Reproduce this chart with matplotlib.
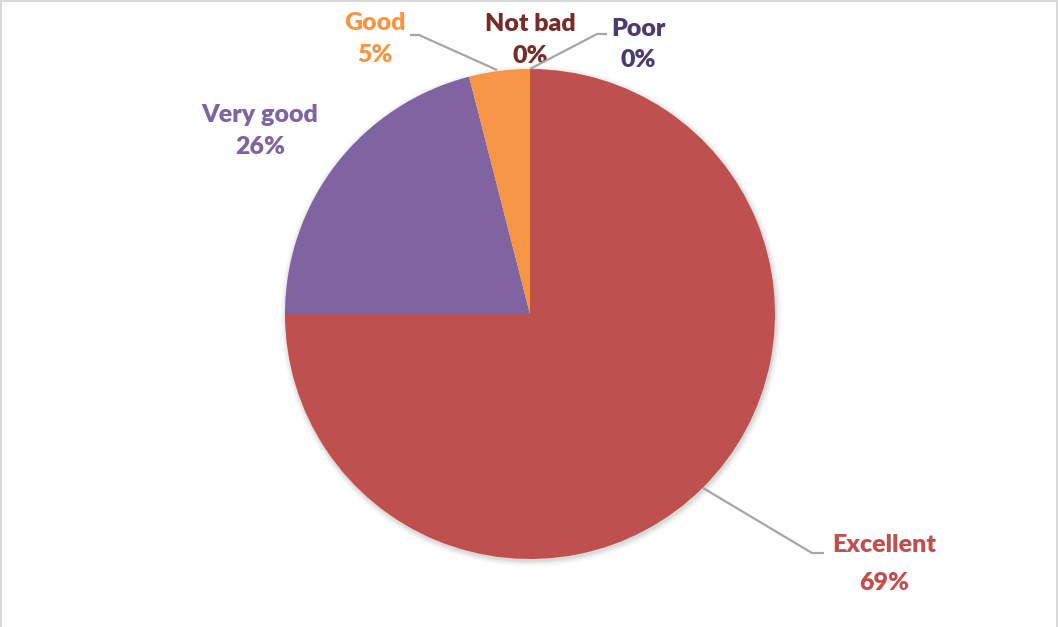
import matplotlib.pyplot as plt
from matplotlib.lines import Line2D
from matplotlib.patches import Circle

categories = ["Excellent", "Very good", "Good", "Not bad", "Poor"]
slice_values = [75, 21, 4, 0, 0]
label_percents = ["69%", "26%", "5%", "0%", "0%"]
slice_colors = ["#C0504D", "#8064A2", "#F79646", "#7F2F2C", "#4D3B6B"]
text_colors = ["#C0504D", "#8064A2", "#F79646", "#772C2A", "#4D3B6B"]

W, H = 1058, 627
fig = plt.figure(figsize=(W / 100, H / 100), dpi=100)
ax = fig.add_axes([0, 0, 1, 1])

def Y(y):
    return H - y

cx, cy, r = 530, 314, 245

# subtle shadow
for i, a in enumerate([0.05, 0.04, 0.03, 0.02]):
    ax.add_patch(Circle((cx + 1, Y(cy) - 2), r + 1 + i * 1.5, color="#000000", alpha=a, lw=0, zorder=0))

ax.pie(slice_values, colors=slice_colors, startangle=90, counterclock=False,
       radius=r, center=(cx, Y(cy)), wedgeprops=dict(linewidth=0), frame=True)

ax.set_xlim(0, W)
ax.set_ylim(0, H)
ax.set_aspect("auto")
ax.axis("off")

# label positions (x center, baseline of name, baseline of percent)
label_pos = {
    "Excellent": (884, 552, 590),
    "Very good": (260, 122, 154),
    "Good": (375, 30, 62),
    "Not bad": (530, 31, 63),
    "Poor": (638, 36, 67),
}
for name, pct, col in zip(categories, label_percents, text_colors):
    x, b1, b2 = label_pos[name]
    ax.text(x, Y(b1), name, ha="center", va="baseline", fontsize=18,
            fontweight="heavy", color=col, family="Lato")
    ax.text(x, Y(b2), pct, ha="center", va="baseline", fontsize=18,
            fontweight="heavy", color=col, family="Lato")

# leader lines
leader_color = "#A6A6A6"
leaders = [
    [(703, 488), (812, 553), (824, 553)],
    [(497, 70), (419, 35), (410, 35)],
    [(530, 69), (597, 34), (607, 34)],
]
for pts in leaders:
    xs = [p[0] for p in pts]
    ys = [Y(p[1]) for p in pts]
    ax.plot(xs, ys, color=leader_color, lw=1.6, solid_capstyle="butt", zorder=5)

# frame border (top, left, right)
border = "#D9D9D9"
fig.add_artist(Line2D([0.5 / W, 0.5 / W], [0, 1 - 0.5 / H], transform=fig.transFigure, color=border, lw=1.5))
fig.add_artist(Line2D([0, 1], [1 - 1 / H, 1 - 1 / H], transform=fig.transFigure, color=border, lw=1.5))
fig.add_artist(Line2D([1 - 1.5 / W, 1 - 1.5 / W], [0, 1 - 0.5 / H], transform=fig.transFigure, color=border, lw=1.5))

fig.savefig("out.png", dpi=100, facecolor="white")
